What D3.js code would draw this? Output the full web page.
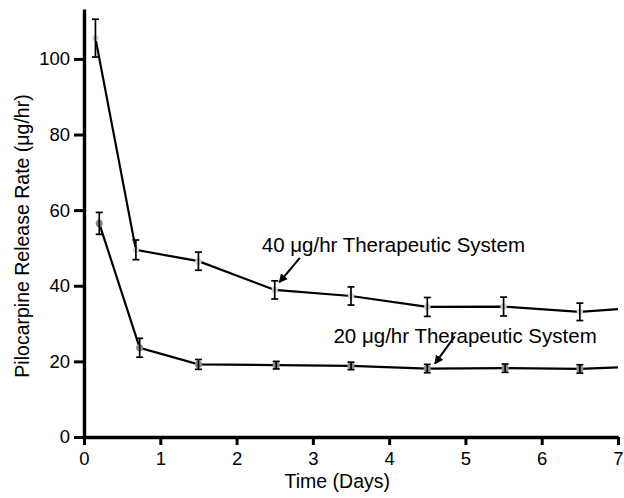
<!DOCTYPE html>
<html>
<head>
<meta charset="utf-8">
<script src="https://cdn.jsdelivr.net/npm/d3@7"></script>
<style>
  body { margin: 0; background: #fff; }
  text { font-family: "Liberation Sans", Arial, sans-serif; fill: #000; }
</style>
</head>
<body>
<div id="chart"></div>
<script>
// 40 ug/hr system
var days40 = [0.15, 0.68, 1.5, 2.5, 3.5, 4.5, 5.5, 6.5, 7];
var rate40 = [105.5, 49.5, 46.5, 38.9, 37.3, 34.4, 34.5, 33.1, 33.8];
var err40  = [5, 2.6, 2.4, 2.4, 2.4, 2.5, 2.5, 2.3, null];
// 20 ug/hr system
var days20 = [0.2, 0.73, 1.5, 2.52, 3.5, 4.5, 5.52, 6.5, 7];
var rate20 = [56.5, 23.6, 19.2, 19.0, 18.8, 18.1, 18.2, 18.0, 18.4];
var err20  = [2.9, 2.5, 1.3, 1.0, 1.0, 1.1, 1.1, 1.1, null];

var xTicks = [0, 1, 2, 3, 4, 5, 6, 7];
var yTicks = [0, 20, 40, 60, 80, 100];
var xTitle = "Time (Days)";
var yTitle = "Pilocarpine Release Rate (\u03bcg/hr)";
var label40 = "40 \u03bcg/hr Therapeutic System";
var label20 = "20 \u03bcg/hr Therapeutic System";

var w = 624, h = 498;
var svg = d3.select("#chart").append("svg")
  .attr("width", w).attr("height", h);

var x = d3.scaleLinear().domain([0, 7]).range([84, 618]);
var y = d3.scaleLinear().domain([0, 113.2]).range([437, 9]);

function toPts(dd, vv, ee) {
  return dd.map(function(d, i) { return {x: d, y: vv[i], e: ee[i]}; });
}
var s40 = toPts(days40, rate40, err40);
var s20 = toPts(days20, rate20, err20);

var line = d3.line().x(function(d) { return x(d.x); }).y(function(d) { return y(d.y); });

function drawSeries(data, dotColor, r) {
  var g = svg.append("g");
  g.append("path").datum(data)
    .attr("d", line)
    .attr("fill", "none")
    .attr("stroke", "#000")
    .attr("stroke-width", 2.2);
  var pts = data.filter(function(d) { return d.e != null; });
  g.selectAll("circle").data(pts).enter().append("circle")
    .attr("cx", function(d) { return x(d.x); })
    .attr("cy", function(d) { return y(d.y); })
    .attr("r", r)
    .attr("fill", dotColor);
  var eb = g.selectAll("g.eb").data(pts).enter().append("g").attr("class", "eb");
  eb.append("line")
    .attr("x1", function(d) { return x(d.x); }).attr("x2", function(d) { return x(d.x); })
    .attr("y1", function(d) { return y(d.y - d.e); }).attr("y2", function(d) { return y(d.y + d.e); });
  eb.append("line")
    .attr("x1", function(d) { return x(d.x) - 3.5; }).attr("x2", function(d) { return x(d.x) + 3.5; })
    .attr("y1", function(d) { return y(d.y + d.e); }).attr("y2", function(d) { return y(d.y + d.e); });
  eb.append("line")
    .attr("x1", function(d) { return x(d.x) - 3.5; }).attr("x2", function(d) { return x(d.x) + 3.5; })
    .attr("y1", function(d) { return y(d.y - d.e); }).attr("y2", function(d) { return y(d.y - d.e); });
  eb.selectAll("line").attr("stroke", "#000").attr("stroke-width", 1.7);
}

drawSeries(s40, "#d4d4d4", 3.2);
drawSeries(s20, "#8a8a8a", 3.6);

// axes
var xAxis = svg.append("g")
  .attr("transform", "translate(0,437)")
  .call(d3.axisBottom(x).tickValues(xTicks).tickFormat(d3.format("d"))
    .tickSize(8).tickSizeOuter(0).tickPadding(7));
var yAxis = svg.append("g")
  .attr("transform", "translate(84,0)")
  .call(d3.axisLeft(y).tickValues(yTicks).tickFormat(d3.format("d"))
    .tickSize(10).tickSizeOuter(0).tickPadding(4));

[xAxis, yAxis].forEach(function(a) {
  a.select(".domain").style("stroke-width", "3.4px").style("stroke", "#000");
  a.selectAll(".tick line").style("stroke-width", "3px").style("stroke", "#000");
  a.selectAll(".tick text")
    .style("font-size", "18.5px")
    .style("font-family", "Liberation Sans, Arial, sans-serif")
    .style("fill", "#000");
});

svg.append("text")
  .attr("x", x(3.32)).attr("y", 488)
  .attr("text-anchor", "middle")
  .attr("font-size", 19.5)
  .text(xTitle);

svg.append("text")
  .attr("transform", "translate(28.5,236) rotate(-90)")
  .attr("text-anchor", "middle")
  .attr("font-size", 19.5)
  .text(yTitle);

// annotations
svg.append("defs").append("marker")
  .attr("id", "ah")
  .attr("viewBox", "0 0 10 10")
  .attr("refX", 9).attr("refY", 5)
  .attr("markerWidth", 9).attr("markerHeight", 9)
  .attr("markerUnits", "userSpaceOnUse")
  .attr("orient", "auto")
  .append("path").attr("d", "M0,0 L10,5 L0,10 z").attr("fill", "#000");

svg.append("text")
  .attr("x", x(2.33)).attr("y", y(49.0))
  .attr("font-size", 20.5)
  .text(label40);
svg.append("line")
  .attr("x1", x(2.83)).attr("y1", y(47.4))
  .attr("x2", x(2.56)).attr("y2", y(40.9))
  .attr("stroke", "#000").attr("stroke-width", 2)
  .attr("marker-end", "url(#ah)");

svg.append("text")
  .attr("x", x(3.27)).attr("y", y(24.9))
  .attr("font-size", 20.5)
  .text(label20);
svg.append("line")
  .attr("x1", x(4.86)).attr("y1", y(26.6))
  .attr("x2", x(4.6)).attr("y2", y(19.4))
  .attr("stroke", "#000").attr("stroke-width", 2)
  .attr("marker-end", "url(#ah)");
</script>
</body>
</html>
